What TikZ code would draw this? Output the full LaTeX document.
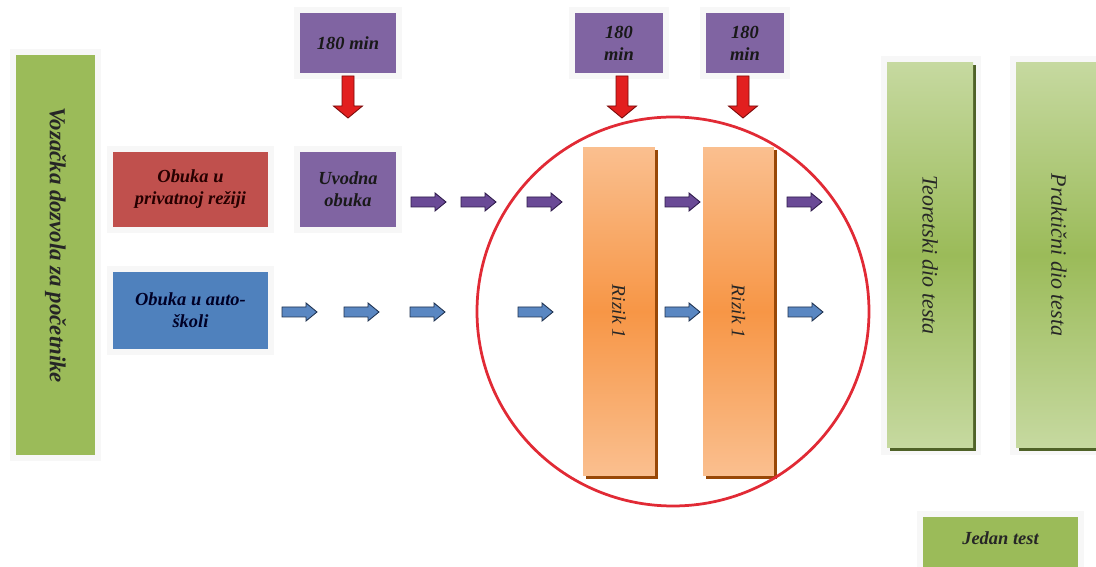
\documentclass[tikz,border=0pt]{standalone}
\usepackage{fontspec}
\setmainfont{Liberation Serif}
\definecolor{grn}{HTML}{9BBB59}
\definecolor{grnl}{HTML}{C6D9A0}
\definecolor{grnsh}{HTML}{4F6228}
\definecolor{redbox}{HTML}{C0504D}
\definecolor{bluebox}{HTML}{4F81BD}
\definecolor{purpbox}{HTML}{8064A2}
\definecolor{ormid}{HTML}{F79646}
\definecolor{orl}{HTML}{FABF8F}
\definecolor{orsh}{HTML}{984807}
\definecolor{parrowfill}{HTML}{6A4A96}
\definecolor{parrowline}{HTML}{2E1A4A}
\definecolor{barrowfill}{HTML}{5A87C2}
\definecolor{barrowline}{HTML}{1F3250}
\definecolor{rarrowfill}{HTML}{E21F1F}
\definecolor{rarrowline}{HTML}{7A0A0A}
\definecolor{ring}{HTML}{E12A35}
\newcommand\blockR[3]{\draw[#3] (#1,#2) ++(0,-5) -- ++(24,0) -- ++(0,-4) -- ++(11,9) -- ++(-11,9) -- ++(0,-4) -- ++(-24,0) -- cycle;}
\newcommand\blockD[2]{\draw[rarrow] (#1,#2) ++(-6,0) -- ++(12,0) -- ++(0,30) -- ++(8.5,0) -- ++(-14.5,12) -- ++(-14.5,-12) -- ++(8.5,0) -- cycle;}
\begin{document}
\begin{tikzpicture}[x=0.02cm,y=-0.02cm,
  halo/.style={fill=black!3,draw=none},
  box/.style={draw=none,inner sep=0pt,align=center,
    font=\bfseries\itshape\fontsize{10.5}{12.5}\selectfont},
  vtext/.style={rotate=-90,inner sep=0pt,text=black!85},
  orshade/.style={top color=orl,bottom color=orl,middle color=ormid},
  grshade/.style={top color=grnl,bottom color=grnl,middle color=grn},
  parrow/.style={fill=parrowfill,draw=parrowline,line width=0.5pt},
  barrow/.style={fill=barrowfill,draw=barrowline,line width=0.5pt},
  rarrow/.style={fill=rarrowfill,draw=rarrowline,line width=0.5pt}]
\useasboundingbox (0,0) rectangle (1096,567);
\clip (0,0) rectangle (1096,567);
\fill[white] (0,0) rectangle (1096,567);
% halos
\fill[halo] (10,49) rectangle (101,461);
\fill[halo] (107,146) rectangle (274,233);
\fill[halo] (107,266) rectangle (274,355);
\fill[halo] (294,7) rectangle (402,79);
\fill[halo] (294,146) rectangle (402,233);
\fill[halo] (569,7) rectangle (669,79);
\fill[halo] (700,7) rectangle (790,79);
\fill[halo] (881,56) rectangle (981,455);
\fill[halo] (1010,56) rectangle (1096,455);
\fill[halo] (917,511) rectangle (1084,567);
% left bar
\node[box,fill=grn,minimum width=1.58cm,minimum height=8cm] (voz) at (55.5,255) {};
\node[vtext,font=\bfseries\itshape\fontsize{13}{15}\selectfont] (voztxt) at (55.5,245) {Vozačka dozvola za početnike};
% left boxes
\node[box,fill=redbox,minimum width=3.1cm,minimum height=1.5cm,text=black!85!red] (priv) at (190.5,189.5) {Obuka u\\privatnoj režiji};
\node[box,fill=bluebox,minimum width=3.1cm,minimum height=1.54cm,text=black!85!blue] (auto) at (190.5,310.5) {Obuka u auto-\\školi};
% purple boxes
\node[box,fill=purpbox,minimum width=1.92cm,minimum height=1.2cm,text=black!90] (t1) at (348,43) {180 min};
\node[box,fill=purpbox,minimum width=1.92cm,minimum height=1.5cm,text=black!90] (uvod) at (348,189.5) {Uvodna\\obuka};
\node[box,fill=purpbox,minimum width=1.76cm,minimum height=1.2cm,text=black!90] (t2) at (619,43) {180\\min};
\node[box,fill=purpbox,minimum width=1.56cm,minimum height=1.2cm,text=black!90] (t3) at (745,43) {180\\min};
% red down arrows
\blockD{348}{76}
\blockD{622}{76}
\blockD{743}{76}
% orange bars
\fill[orsh] (586,150) rectangle (658,479);
\fill[orsh] (706,150) rectangle (777,479);
\node[box,orshade,minimum width=1.44cm,minimum height=6.58cm] (r1) at (619,311.5) {};
\node[box,orshade,minimum width=1.42cm,minimum height=6.58cm] (r2) at (738.5,311.5) {};
\node[vtext,font=\itshape\fontsize{11}{13}\selectfont] (r1t) at (r1) {Rizik 1};
\node[vtext,font=\itshape\fontsize{11}{13}\selectfont] (r2t) at (r2) {Rizik 1};
% right green bars
\fill[grnsh] (890,65) rectangle (976,451);
\node[box,grshade,minimum width=1.72cm,minimum height=7.72cm] (teo) at (930,255) {};
\fill[grnsh] (1019,65) rectangle (1105,451);
\node[box,grshade,minimum width=1.72cm,minimum height=7.72cm] (prak) at (1059,255) {};
\node[vtext,font=\itshape\fontsize{12.5}{14}\selectfont] (teot) at (930,255) {Teoretski dio testa};
\node[vtext,font=\itshape\fontsize{12.5}{14}\selectfont] (prakt) at (1059,255) {Praktični dio testa};
% jedan test
\fill[grn] (923,517) rectangle (1078,567);
\node[box,text=black!85] (jedan) at (1000.5,538) {Jedan test};
% purple arrows
\blockR{411}{202}{parrow}
\blockR{461}{202}{parrow}
\blockR{527}{202}{parrow}
\blockR{665}{202}{parrow}
\blockR{787}{202}{parrow}
% blue arrows
\blockR{282}{312}{barrow}
\blockR{344}{312}{barrow}
\blockR{410}{312}{barrow}
\blockR{518}{312}{barrow}
\blockR{665}{312}{barrow}
\blockR{788}{312}{barrow}
% ring
\draw[ring,line width=0.55mm] (673,311.5) ellipse [x radius=196,y radius=194.5];
\end{tikzpicture}
\end{document}
